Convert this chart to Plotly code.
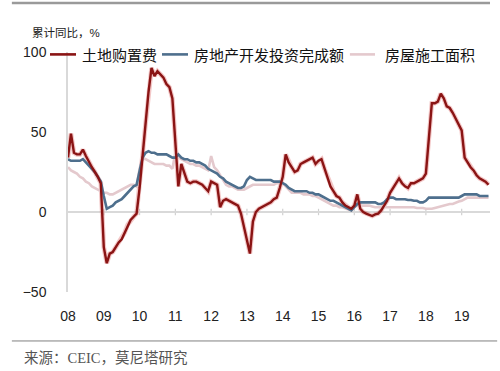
import plotly.graph_objects as go

# Monthly, Jan 2008 .. Oct 2019 (index 0 = Jan 2008)
year_labels = ["08", "09", "10", "11", "12", "13", "14", "15", "16", "17", "18", "19"]
series_names = ["土地购置费", "房地产开发投资完成额", "房屋施工面积"]
series_colors = ["#8A1414", "#4E6F8D", "#E4C9CD"]

land_purchase = [
    34, 49, 37, 36, 36, 39, 35, 31, 28, 25, 22, 18,
    -22, -32, -26, -25, -22, -19, -17, -13, -8, -5, -3, -1,
    15, 36, 55, 75, 90, 85, 88, 86, 84, 80, 78, 71,
    46, 16, 30, 24, 19, 18, 19, 19, 18, 17, 15, 13,
    19, 18, 17, 3, 7, 8, 7, 6, 5, 4, -1, -10,
    -18, -26, -6, 0, 2, 3, 4, 5, 6, 8, 9, 15,
    22, 36, 31, 28, 25, 26, 30, 31, 32, 33, 34, 30,
    32, 33, 27, 22, 16, 13, 10, 9, 6, 4, 3, 2,
    4, 11, 2, 0, -1, -2, -2.5, -1.5, -1, 1, 4, 7,
    12, 15, 18, 21, 18, 16, 15, 18, 18, 19, 20, 21,
    24, 45, 68, 68, 69, 74, 71, 66, 65, 62, 58, 55,
    51, 34, 31, 28, 26, 23, 21, 20, 19, 17,
]
investment = [
    33, 32, 32, 32, 32, 33, 31, 29, 27, 25, 22, 19,
    10, 2, 3, 4, 6, 7, 8, 10, 12, 14, 16, 17,
    26, 34, 37, 38, 37, 37, 36, 36, 36, 36, 35, 34,
    34, 36, 34, 33, 33, 32, 32, 31, 31, 30, 29, 27,
    26, 25, 24, 22, 21, 19, 18, 17, 16, 15, 15, 16,
    20, 22, 21, 20, 20, 20, 20, 20, 20, 19, 19, 19,
    18, 17, 15, 14, 13, 13, 13, 13, 13, 12, 12, 11,
    11, 10, 9, 8, 7, 7, 6, 5, 4, 3, 2, 1,
    3, 5, 6, 6, 6, 6, 6, 6, 5, 5, 6, 8,
    9, 9, 8, 8, 8, 8, 7.5, 7.5, 7, 7, 6, 6,
    7, 9, 9, 9, 9, 9, 9, 9, 9, 9, 9, 9,
    10, 11, 11, 11, 11, 11, 10, 10, 10, 10,
]
floor_space = [
    28, 26, 25, 24, 22, 21, 19, 18, 16, 15, 14, 13,
    12, 12, 11, 11, 12, 13, 14, 15, 16, 17, 17, 16,
    27, 34, 33, 32, 31, 30, 30, 30, 30, 29, 29, 27,
    37, 34, 33, 32, 31, 30, 30, 29, 29, 28, 27, 26,
    35, 28, 26, 23, 20, 17, 16, 16, 15, 14, 14, 14,
    15, 16, 17, 17, 17, 17, 17, 17, 17, 17, 18, 18,
    18, 16, 14, 12, 12, 12, 12, 11, 11, 11, 10, 10,
    9, 8, 7, 6, 5, 4, 4, 3, 3, 2, 1.5, 1,
    3, 4, 4, 4, 4, 4, 3.5, 3, 3, 3, 3, 3,
    3, 3, 3, 3, 3, 3, 3, 3, 3, 2.5, 2.5, 2.5,
    2, 2, 2, 2.5, 3, 3.5, 4, 4.5, 5, 5, 6, 6.5,
    7, 8, 9, 9, 9, 9, 9, 9, 9, 9,
]

months = list(range(len(land_purchase)))
tick_vals = [12 * i for i in range(len(year_labels))]

CJK = "Liberation Sans, Noto Sans CJK SC, sans-serif"

fig = go.Figure()
# soft halo under the red line
fig.add_trace(go.Scatter(x=months, y=land_purchase, mode="lines",
                         line=dict(color="rgba(215,70,70,0.3)", width=4.6),
                         showlegend=False, hoverinfo="skip"))
fig.add_trace(go.Scatter(x=months, y=floor_space, mode="lines", name=series_names[2],
                         line=dict(color=series_colors[2], width=2.6), showlegend=False))
fig.add_trace(go.Scatter(x=months, y=investment, mode="lines", name=series_names[1],
                         line=dict(color=series_colors[1], width=2.6), showlegend=False))
fig.add_trace(go.Scatter(x=months, y=land_purchase, mode="lines", name=series_names[0],
                         line=dict(color=series_colors[0], width=2.4), showlegend=False))

shapes = []
# tick marks on the zero line
for tv in tick_vals[1:]:
    shapes.append(dict(type="line", xref="x", yref="y", x0=tv, x1=tv, y0=-2, y1=2,
                       line=dict(color="#d0d0d0", width=1.2), layer="below"))
# top and bottom rules
shapes.append(dict(type="line", xref="paper", yref="paper", x0=-0.133, x1=1.0,
                   y0=1.204, y1=1.204, line=dict(color="#9a9a9a", width=2.5)))
shapes.append(dict(type="line", xref="paper", yref="paper", x0=-0.133, x1=1.017,
                   y0=-0.204, y1=-0.204, line=dict(color="#808080", width=1)))

# legend (drawn manually so it stays on one row like the original)
legend_y = 0.99
legend_line_x = [(-0.0427, 0.019), (0.2227, 0.2844), (0.668, 0.7275)]
legend_text_x = [0.0284, 0.2938, 0.7464]
annotations = []
for name, col, (lx0, lx1), tx in zip(series_names, series_colors, legend_line_x, legend_text_x):
    shapes.append(dict(type="line", xref="paper", yref="paper", x0=lx0, x1=lx1,
                       y0=legend_y, y1=legend_y, line=dict(color=col, width=2.6)))
    annotations.append(dict(text=name, xref="paper", yref="paper", x=tx, y=legend_y - 0.005,
                            xanchor="left", yanchor="middle", showarrow=False,
                            font=dict(size=15, color="#111")))

annotations.append(dict(text="累计同比，%", xref="paper", yref="paper", x=-0.09, y=1.079,
                        xanchor="left", yanchor="middle", showarrow=False,
                        font=dict(size=11.5, color="#222")))
annotations.append(dict(text="来源：CEIC，莫尼塔研究", xref="paper", yref="paper",
                        x=-0.109, y=-0.277, xanchor="left", yanchor="middle", showarrow=False,
                        font=dict(family="Liberation Serif, Noto Sans CJK SC, serif",
                                  size=14.5, color="#555")))

fig.update_layout(
    width=500, height=371,
    margin=dict(l=68, r=10, t=52, b=79, autoexpand=False),
    paper_bgcolor="white", plot_bgcolor="white",
    font=dict(family=CJK, size=14, color="#222"),
    shapes=shapes,
    annotations=annotations,
    showlegend=False,
)
fig.update_xaxes(range=[0, 141.5], tickvals=tick_vals, ticktext=year_labels,
                 showline=False, showgrid=False, zeroline=False, ticks="",
                 ticklabelstandoff=14, tickfont=dict(size=14, color="#222"))
fig.update_yaxes(range=[-50, 100], tickvals=[-50, 0, 50, 100], showgrid=False,
                 zeroline=True, zerolinecolor="#d9d9d9", zerolinewidth=1.5,
                 showline=True, linecolor="#d9d9d9", linewidth=1.5, ticks="",
                 ticklabelstandoff=17, tickfont=dict(size=14, color="#222"))

fig.write_html("out.html", config={"displayModeBar": False},
               post_script="document.body.style.margin='0';document.body.style.overflow='hidden';")
